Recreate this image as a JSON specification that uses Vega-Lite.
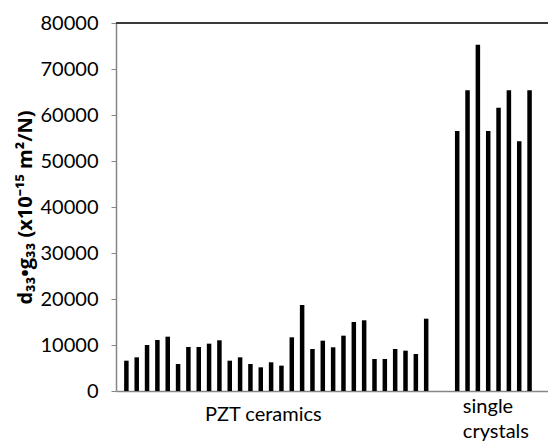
{
  "$schema": "https://vega.github.io/schema/vega-lite/v6.json",
  "autosize": {"type": "none"},
  "padding": {"left": 116, "top": 23, "right": 0, "bottom": 55},
  "width": 432,
  "height": 368,
  "config": {"view": {"stroke": null}, "font": "Lato"},
  "data": {"values": [
    {"i": 1, "v": 6590, "group": "PZT ceramics"},
    {"i": 2, "v": 7320, "group": "PZT ceramics"},
    {"i": 3, "v": 10000, "group": "PZT ceramics"},
    {"i": 4, "v": 11090, "group": "PZT ceramics"},
    {"i": 5, "v": 11810, "group": "PZT ceramics"},
    {"i": 6, "v": 5870, "group": "PZT ceramics"},
    {"i": 7, "v": 9570, "group": "PZT ceramics"},
    {"i": 8, "v": 9570, "group": "PZT ceramics"},
    {"i": 9, "v": 10290, "group": "PZT ceramics"},
    {"i": 10, "v": 11020, "group": "PZT ceramics"},
    {"i": 11, "v": 6590, "group": "PZT ceramics"},
    {"i": 12, "v": 7320, "group": "PZT ceramics"},
    {"i": 13, "v": 5870, "group": "PZT ceramics"},
    {"i": 14, "v": 5150, "group": "PZT ceramics"},
    {"i": 15, "v": 6240, "group": "PZT ceramics"},
    {"i": 16, "v": 5510, "group": "PZT ceramics"},
    {"i": 17, "v": 11670, "group": "PZT ceramics"},
    {"i": 18, "v": 18700, "group": "PZT ceramics"},
    {"i": 19, "v": 9130, "group": "PZT ceramics"},
    {"i": 20, "v": 10940, "group": "PZT ceramics"},
    {"i": 21, "v": 9500, "group": "PZT ceramics"},
    {"i": 22, "v": 12030, "group": "PZT ceramics"},
    {"i": 23, "v": 15000, "group": "PZT ceramics"},
    {"i": 24, "v": 15370, "group": "PZT ceramics"},
    {"i": 25, "v": 6960, "group": "PZT ceramics"},
    {"i": 26, "v": 6960, "group": "PZT ceramics"},
    {"i": 27, "v": 9130, "group": "PZT ceramics"},
    {"i": 28, "v": 8770, "group": "PZT ceramics"},
    {"i": 29, "v": 8040, "group": "PZT ceramics"},
    {"i": 30, "v": 15720, "group": "PZT ceramics"},
    {"i": 33, "v": 56520, "group": "single crystals"},
    {"i": 34, "v": 65370, "group": "single crystals"},
    {"i": 35, "v": 75290, "group": "single crystals"},
    {"i": 36, "v": 56520, "group": "single crystals"},
    {"i": 37, "v": 61590, "group": "single crystals"},
    {"i": 38, "v": 65370, "group": "single crystals"},
    {"i": 39, "v": 54280, "group": "single crystals"},
    {"i": 40, "v": 65370, "group": "single crystals"}
  ]},
  "layer": [
    {
      "mark": {"type": "bar", "color": "#000000", "size": 4.5},
      "encoding": {
        "x": {
          "field": "i", "type": "quantitative",
          "scale": {"domain": [0.48, 41.3], "nice": false, "zero": false},
          "axis": {
            "title": null,
            "values": [14.2, 33.5],
            "labelExpr": "datum.value < 20 ? 'PZT ceramics' : ['single', 'crystals']",
            "labelAlign": {"expr": "datum.value < 20 ? 'center' : 'left'"},
            "labelBaseline": "alphabetic",
            "labelPadding": {"expr": "datum.value < 20 ? 29 : 21"},
            "labelLineHeight": 25,
            "labelFontSize": 20,
            "labelColor": "#000000",
            "ticks": false,
            "grid": false,
            "domainColor": "#868686",
            "domainWidth": 1.5,
            "labelFlush": false,
            "labelOverlap": false
          }
        },
        "y": {
          "field": "v", "type": "quantitative",
          "scale": {"domain": [0, 80000], "nice": false},
          "axis": {
            "title": "d₃₃•g₃₃ (x10⁻¹⁵ m²/N)",
            "titleFont": "Open Sans",
            "titleFontSize": 20,
            "titleFontWeight": "bold",
            "titleColor": "#000000",
            "titlePadding": 5,
            "values": [0, 10000, 20000, 30000, 40000, 50000, 60000, 70000, 80000],
            "format": "d",
            "labelFontSize": 20,
            "labelColor": "#000000",
            "labelPadding": 13,
            "tickSize": 5,
            "tickColor": "#868686",
            "domainColor": "#868686",
            "domainWidth": 1.5,
            "grid": false
          }
        }
      }
    },
    {
      "mark": {"type": "rule", "color": "#3a3a3a", "strokeWidth": 1.5},
      "encoding": {"y": {"datum": 80000}}
    }
  ]
}
